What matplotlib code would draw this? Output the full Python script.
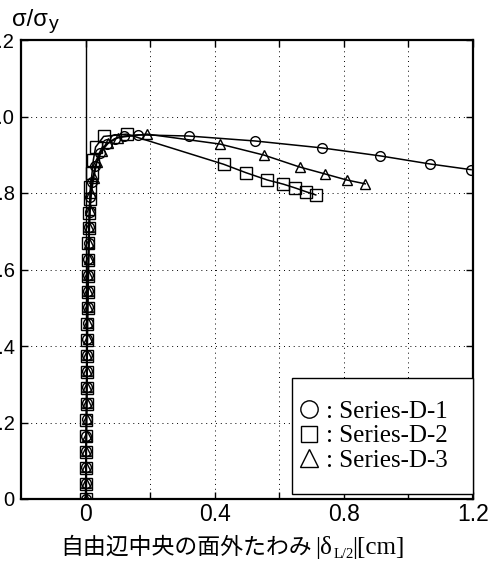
import numpy as np
import matplotlib
matplotlib.use('Agg')
import matplotlib.pyplot as plt
from matplotlib.lines import Line2D
from matplotlib.patches import Rectangle

plt.rcParams['font.family'] = ['Liberation Sans', 'DejaVu Sans']

# Series-D-1 (circles)
d1_x = [0.000, 0.001, 0.001, 0.002, 0.002, 0.003, 0.003, 0.004, 0.004, 0.005,
        0.005, 0.006, 0.006, 0.007, 0.008, 0.009, 0.010, 0.011, 0.013, 0.015,
        0.020, 0.030, 0.045, 0.065, 0.090, 0.120, 0.163, 0.319, 0.525, 0.731,
        0.913, 1.066, 1.194]
d1_y = [0.000, 0.042, 0.084, 0.125, 0.166, 0.208, 0.250, 0.292, 0.334, 0.376,
        0.418, 0.460, 0.502, 0.544, 0.586, 0.628, 0.670, 0.710, 0.750, 0.790,
        0.830, 0.870, 0.905, 0.928, 0.942, 0.949, 0.952, 0.949, 0.936, 0.918,
        0.897, 0.876, 0.861]

# Series-D-2 (squares)
d2_x = [0.000, 0.000, 0.001, 0.001, 0.002, 0.002, 0.003, 0.003, 0.004, 0.004,
        0.005, 0.005, 0.006, 0.006, 0.007, 0.008, 0.009, 0.010, 0.011, 0.013,
        0.015, 0.020, 0.024, 0.031, 0.056, 0.128, 0.428, 0.497, 0.563, 0.613,
        0.650, 0.684, 0.713]
d2_y = [0.000, 0.040, 0.082, 0.123, 0.164, 0.206, 0.248, 0.290, 0.332, 0.374,
        0.416, 0.458, 0.500, 0.542, 0.584, 0.626, 0.668, 0.708, 0.748, 0.784,
        0.816, 0.852, 0.886, 0.920, 0.948, 0.954, 0.875, 0.853, 0.834, 0.823,
        0.813, 0.803, 0.795]

# Series-D-3 (triangles)
d3_x = [0.001, 0.001, 0.002, 0.002, 0.003, 0.003, 0.004, 0.004, 0.005, 0.005,
        0.006, 0.006, 0.007, 0.008, 0.009, 0.010, 0.011, 0.012, 0.014, 0.018,
        0.025, 0.035, 0.050, 0.070, 0.100, 0.190, 0.416, 0.553, 0.663, 0.741,
        0.809, 0.866]
d3_y = [0.000, 0.042, 0.084, 0.125, 0.166, 0.208, 0.250, 0.292, 0.334, 0.376,
        0.418, 0.460, 0.502, 0.544, 0.586, 0.628, 0.670, 0.712, 0.755, 0.800,
        0.840, 0.880, 0.910, 0.930, 0.945, 0.954, 0.928, 0.899, 0.868, 0.850,
        0.834, 0.824]

labels = [': Series-D-1', ': Series-D-2', ': Series-D-3']
markers = ['o', 's', '^']
msizes = [7, 8, 7.5]
leg_msizes = [12.5, 11, 13]

xt = [0, 0.2, 0.4, 0.6, 0.8, 1.0, 1.2]
xt_labels = ['0', '', '0.4', '', '0.8', '', '1.2']
yt = [0, 0.2, 0.4, 0.6, 0.8, 1.0, 1.2]
yt_labels = ['0', '0.2', '0.4', '0.6', '0.8', '1.0', '1.2']

W, H = 498, 563
fig = plt.figure(figsize=(W/100, H/100), dpi=100)
ax = fig.add_axes([21/W, 64/H, 452/W, 459/H])

ax.axvline(0, color='black', lw=1.0, zorder=1)
for xs, ys, m, ms in zip([d1_x, d2_x, d3_x], [d1_y, d2_y, d3_y], markers, msizes):
    ax.plot(xs, ys, color='black', lw=1.1, marker=m, ms=ms,
            mfc='none', mec='black', mew=1.0, zorder=3)

ax.set_xlim(-0.2, 1.2)
ax.set_ylim(0, 1.2)
ax.set_xticks(xt)
ax.set_xticklabels(xt_labels)
ax.set_yticks(yt)
ax.set_yticklabels(yt_labels)
ax.tick_params(direction='in', top=True, right=True, length=5, width=1.0)
ax.tick_params(axis='x', pad=3, labelsize=16.5)
ax.tick_params(axis='y', pad=4.5, labelsize=14.5)
ax.grid(True, color='black', lw=0.7, linestyle=(0, (1, 4)))
for s in ax.spines.values():
    s.set_linewidth(1.6)

# legend box flush with the right spine
ax.add_patch(Rectangle((271/452, 5/459), 181/452, 116/459, transform=ax.transAxes,
                       facecolor='white', edgecolor='black', lw=1.0, zorder=4,
                       clip_on=False))
handles = [Line2D([], [], ls='none', marker=m, ms=ms, mfc='none', mec='black', mew=1.0)
           for m, ms in zip(markers, leg_msizes)]
leg = ax.legend(handles, labels, loc='center left',
                bbox_to_anchor=(277/452, 63/459), borderaxespad=0,
                prop={'family': 'Liberation Serif', 'size': 18},
                handletextpad=0.25, handlelength=0.85, borderpad=0,
                labelspacing=0.08, frameon=False)
leg.set_zorder(5)

# y label
fig.text(12/W, 1 - 26/H, 'σ/σ', fontsize=17, ha='left', va='baseline')
fig.text(49/W, 1 - 29/H, 'y', fontsize=14, ha='left', va='baseline')

# x label
fig.text(60/W, 1 - 547/H, '自由辺中央の面外たわみ', fontsize=16.5,
         family=['Noto Sans CJK JP', 'DejaVu Sans'], ha='left', va='center')
fig.text(315/W, 1 - 554/H, '|δ', fontsize=18, family='Liberation Serif',
         ha='left', va='baseline')
fig.text(334/W, 1 - 558/H, 'L/2', fontsize=10.5, family='Liberation Serif',
         ha='left', va='baseline')
fig.text(352/W, 1 - 554/H, '|[cm]', fontsize=18, family='Liberation Serif',
         ha='left', va='baseline')

fig.savefig('out.png', dpi=100)
